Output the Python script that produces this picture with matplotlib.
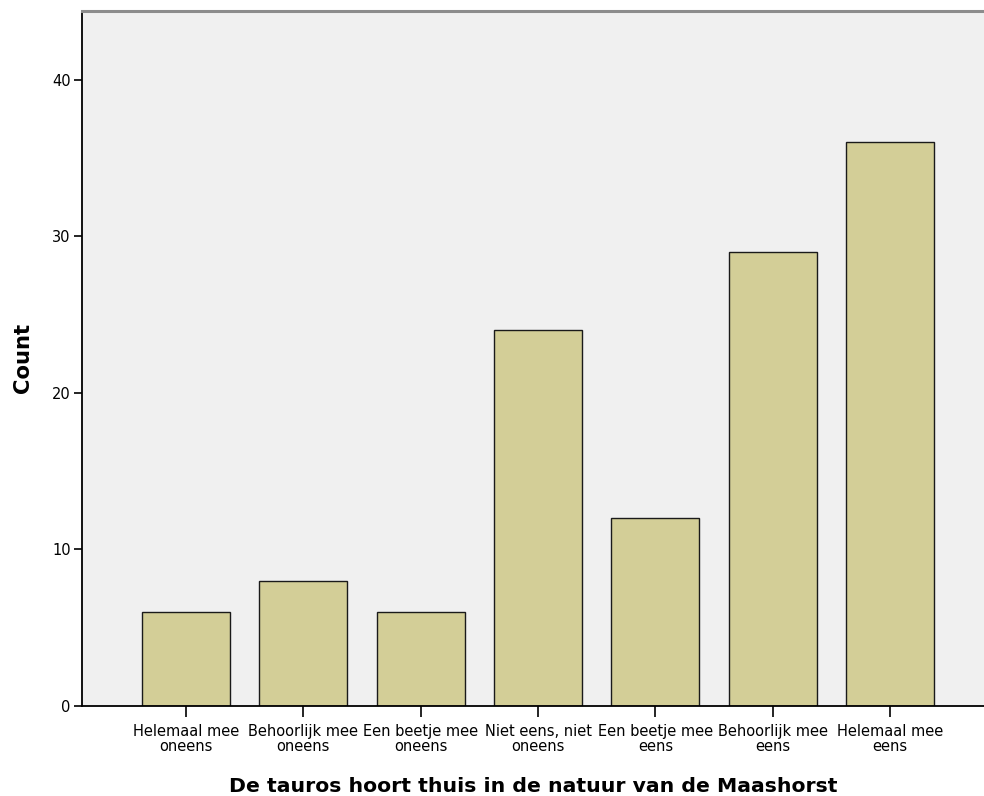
import matplotlib
matplotlib.use("Agg")
import matplotlib.pyplot as plt
import numpy as np

CATEGORIES = [
    "Helemaal mee\noneens",
    "Behoorlijk mee\noneens",
    "Een beetje mee\noneens",
    "Niet eens, niet\noneens",
    "Een beetje mee\neens",
    "Behoorlijk mee\neens",
    "Helemaal mee\neens",
]
COUNTS = [6, 8, 6, 24, 12, 29, 36]
Y_TICKS = [0, 10, 20, 30, 40]

BAR_COLOR = "#d3ce97"
BG_COLOR = "#f0f0f0"

fig = plt.figure(figsize=(9.84, 7.96), dpi=100)
ax = fig.add_axes([0.0833, 0.1134, 0.9167, 0.8728])
ax.set_facecolor(BG_COLOR)

x = np.arange(len(CATEGORIES))
ax.bar(x, COUNTS, width=0.75, color=BAR_COLOR, edgecolor="#1a1a1a", linewidth=1.0, zorder=2)

ax.set_xlim(-0.886, 6.80)
ax.set_ylim(0, 44.4)
ax.set_yticks(Y_TICKS)
ax.set_xticks(x)
ax.set_xticklabels(CATEGORIES, fontsize=10.5, family="DejaVu Sans", linespacing=1.03)

ax.tick_params(axis="y", length=6, width=1.2, labelsize=10.5, pad=2)
ax.tick_params(axis="x", length=8, width=1.2, pad=5)

for side in ["left", "bottom"]:
    ax.spines[side].set_color("black")
    ax.spines[side].set_linewidth(1.3)
ax.spines["top"].set_color("#8c8c8c")
ax.spines["top"].set_linewidth(2.2)
ax.spines["right"].set_visible(False)

ax.set_xlabel("De tauros hoort thuis in de natuur van de Maashorst",
              fontsize=14.7, fontweight="bold", labelpad=16.5)
ax.set_ylabel("Count", fontsize=15.2, fontweight="bold", labelpad=14)

fig.savefig("out.png", dpi=100)
